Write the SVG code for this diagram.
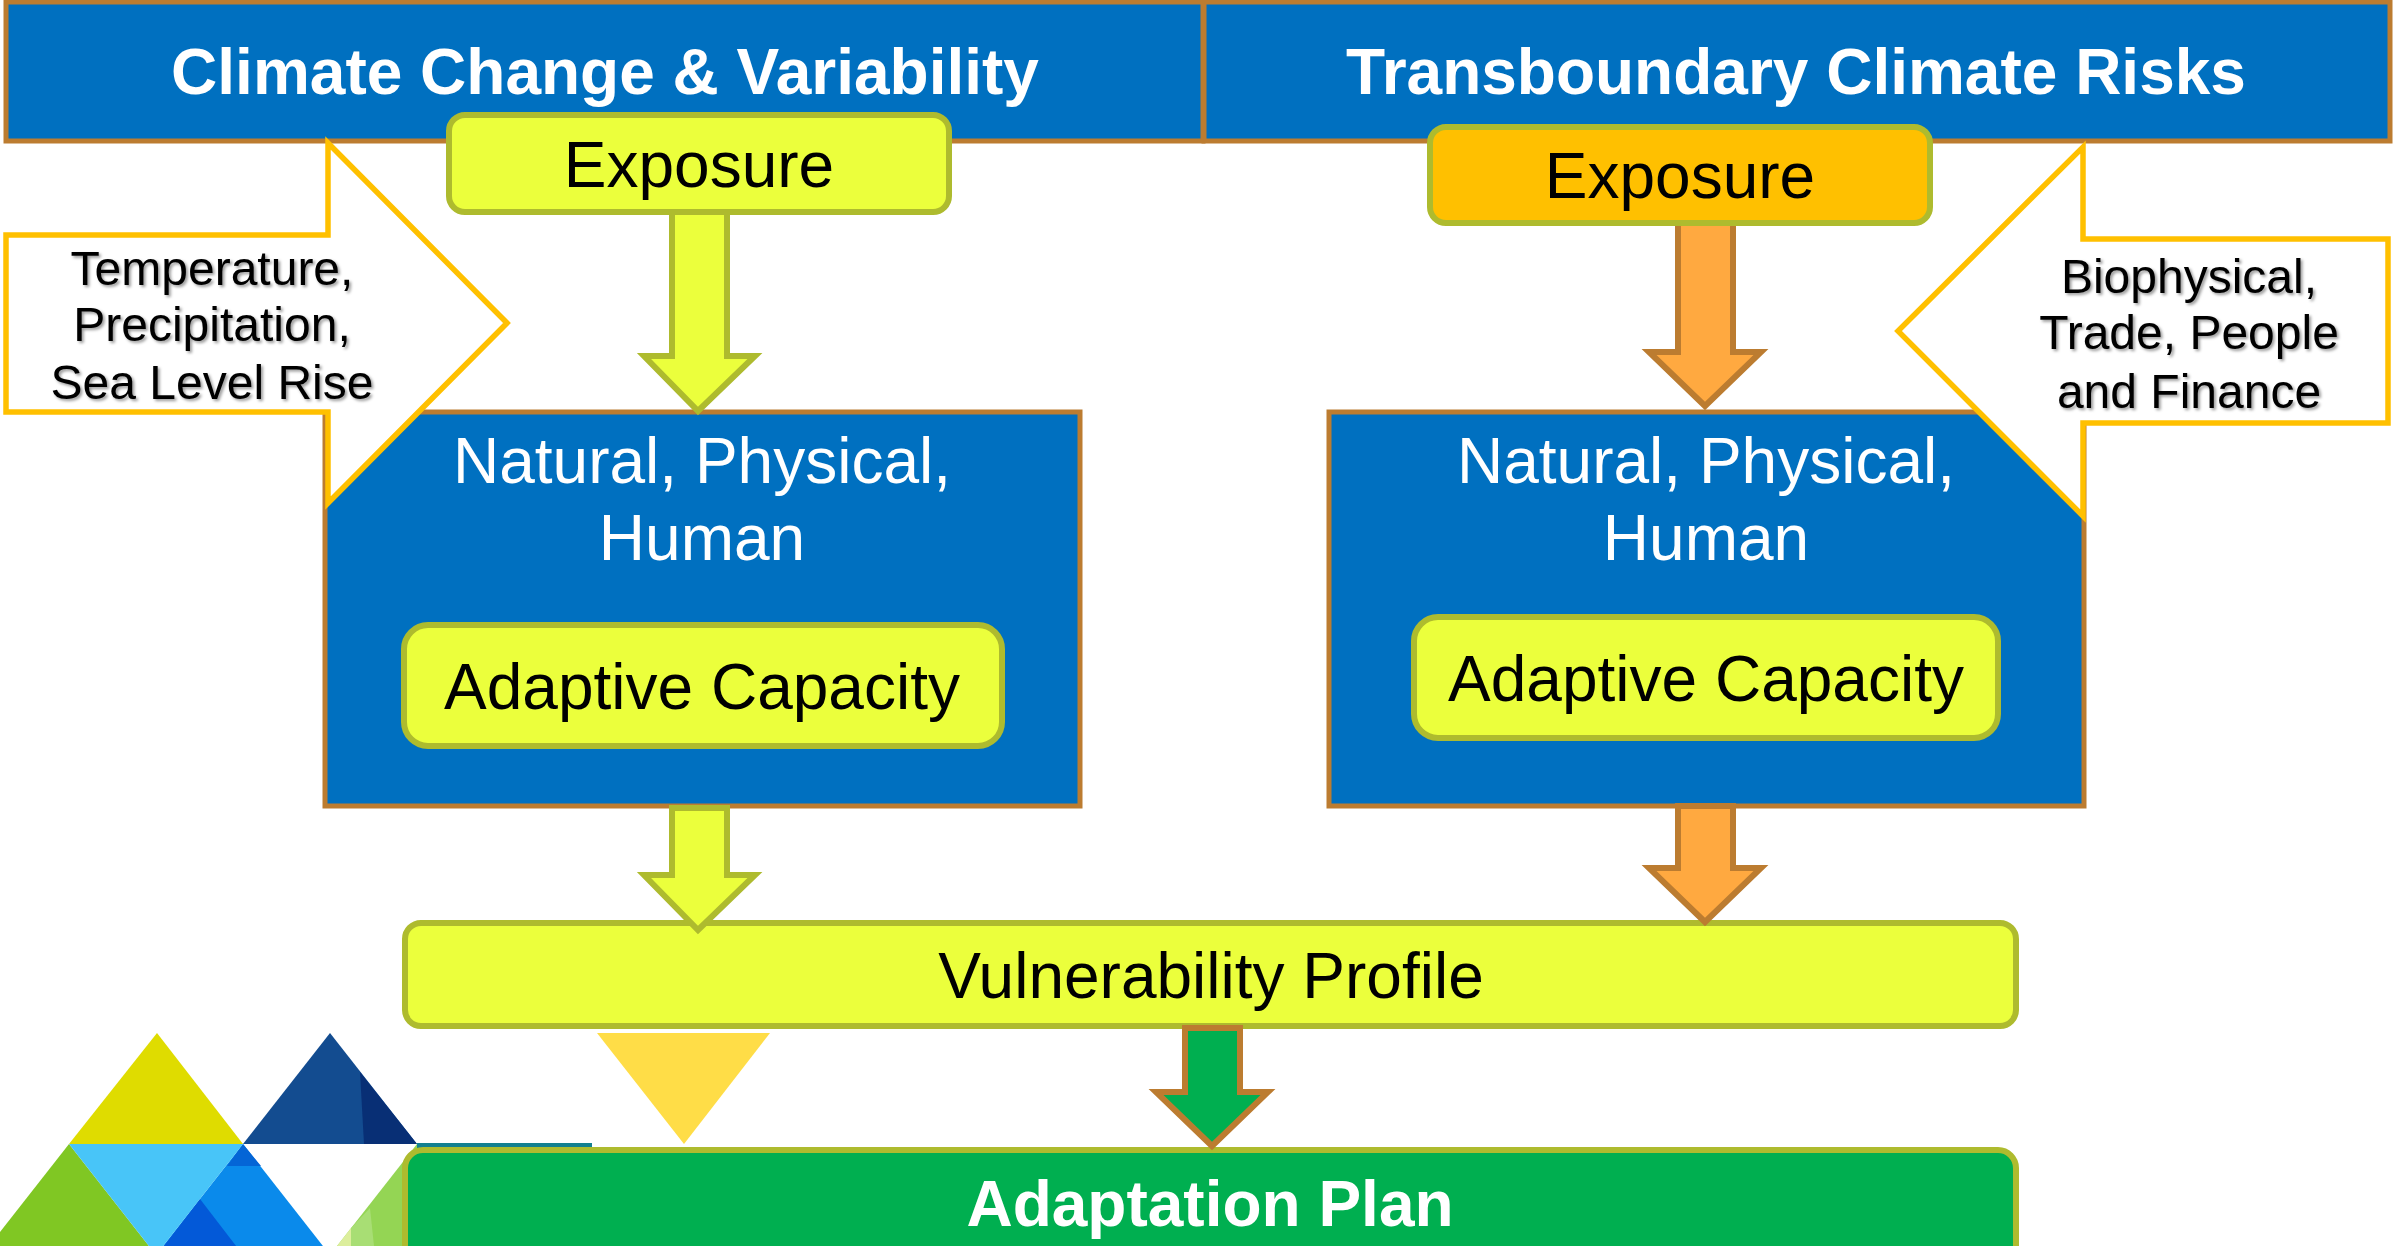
<svg xmlns="http://www.w3.org/2000/svg" width="2394" height="1246" viewBox="0 0 2394 1246">
<style>
text{font-family:"Liberation Sans",Arial,sans-serif;text-anchor:middle}
.blue{fill:#0070C0;stroke:#BC7C30;stroke-width:5}
.yb{fill:#EBFF3C;stroke:#AEBB2E;stroke-width:6}
.ya{fill:#EBFF3C;stroke:#AEBB2E;stroke-width:6}
.oa{fill:#FFA940;stroke:#BC7C30;stroke-width:6}
.ga{fill:#00AF50;stroke:#BC7C30;stroke-width:6}
.call{fill:#fff;stroke:#FFC000;stroke-width:5.5}
.h{font-size:64px;font-weight:bold;fill:#fff}
.w{font-size:64px;fill:#fff}
.k{font-size:64px;fill:#000}
.s{font-size:48px;fill:#000;filter:url(#sh)}
</style>
<defs><filter id="sh" x="-5%" y="-20%" width="110%" height="140%"><feDropShadow dx="2" dy="2" stdDeviation="1.5" flood-color="#000" flood-opacity="0.4"/></filter></defs>
<g id="logo">
<polygon points="157,1033 243,1144 69,1144" fill="#DFDC00"/>
<polygon points="330,1033 417,1144 243,1144" fill="#134C90"/>
<polygon points="360,1072 417,1144 364,1144" fill="#082F75"/>
<polygon points="69,1144 -18,1255 156,1255" fill="#80C723"/>
<polygon points="243,1144 330,1255 156,1255" fill="#0A8AEB"/>
<polygon points="243,1144 261,1166 227,1166" fill="#0465D6"/>
<polygon points="200,1199 243,1255 157,1255" fill="#0359D8"/>
<polygon points="69,1144 243,1144 156,1255" fill="#48C5F8"/>
<polygon points="417,1144 330,1255 504,1255" fill="#94D554"/>
<polygon points="351,1228 351,1246 374,1246 370,1208" fill="#A8DE74"/>
<polygon points="351,1228 351,1246 337,1246" fill="#DCEE9C"/>
<rect x="417" y="1143" width="175" height="6" fill="#128090"/>
</g>
<polygon id="decor-triangle" points="597,1033 770,1033 684,1144" fill="#FFDD47"/>
<g id="header-left"><rect class="blue" x="6" y="2" width="1197" height="139"/><text class="h" x="605" y="94">Climate Change &amp; Variability</text></g>
<g id="header-right"><rect class="blue" x="1204" y="2" width="1186" height="139"/><text class="h" x="1796" y="94">Transboundary Climate Risks</text></g>
<g id="box-left"><rect class="blue" x="325" y="412" width="755" height="394"/></g>
<g id="box-right"><rect class="blue" x="1329" y="412" width="755" height="394"/></g>
<g id="vulnerability"><rect class="yb" x="405" y="923" width="1611" height="103" rx="16"/><text class="k" x="1211" y="998">Vulnerability Profile</text></g>
<g id="adaptation"><rect fill="#00AF50" stroke="#AEBB2E" stroke-width="6" x="405" y="1150" width="1611" height="120" rx="18"/><text class="h" x="1210" y="1226">Adaptation Plan</text></g>
<g id="connectors">
<polygon class="ya" points="672,212 727,212 727,356 755,356 698,411 644,356 672,356"/>
<polygon class="oa" points="1678,222 1733,222 1733,352 1761,352 1705,406 1649,352 1678,352"/>
<polygon class="ya" points="672,808 727,808 727,875 755,875 698,930 644,875 672,875"/>
<polygon class="oa" points="1678,806 1733,806 1733,868 1761,868 1705,922 1649,868 1678,868"/>
<polygon class="ga" points="1185,1028 1240,1028 1240,1092 1268,1092 1212,1146 1156,1092 1185,1092"/>
</g>
<g id="callout-left"><polygon class="call" points="6,235 328,235 328,143 507,323 328,503 328,412 6,412"/>
<text class="s" x="212" y="285">Temperature,</text><text class="s" x="212" y="341">Precipitation,</text><text class="s" x="212" y="399">Sea Level Rise</text></g>
<g id="callout-right"><polygon class="call" points="2388,239 2083,239 2083,147 1898,331 2083,516 2083,423 2388,423"/>
<text class="s" x="2189" y="293">Biophysical,</text><text class="s" x="2189" y="349">Trade, People</text><text class="s" x="2189" y="408">and Finance</text></g>
<g id="exposure-left"><rect class="yb" x="449" y="115" width="500" height="97" rx="16"/><text class="k" x="699" y="187">Exposure</text></g>
<g id="exposure-right"><rect fill="#FFC000" stroke="#AEBB2E" stroke-width="6" x="1430" y="127" width="500" height="96" rx="16"/><text class="k" x="1680" y="198">Exposure</text></g>
<g id="nph-left"><text class="w" x="702" y="483">Natural, Physical,</text><text class="w" x="702" y="560">Human</text></g>
<g id="nph-right"><text class="w" x="1706" y="483">Natural, Physical,</text><text class="w" x="1706" y="560">Human</text></g>
<g id="adaptive-left"><rect class="yb" x="404" y="625" width="598" height="121" rx="24"/><text class="k" x="702" y="709">Adaptive Capacity</text></g>
<g id="adaptive-right"><rect class="yb" x="1414" y="617" width="584" height="121" rx="24"/><text class="k" x="1706" y="701">Adaptive Capacity</text></g>
</svg>
